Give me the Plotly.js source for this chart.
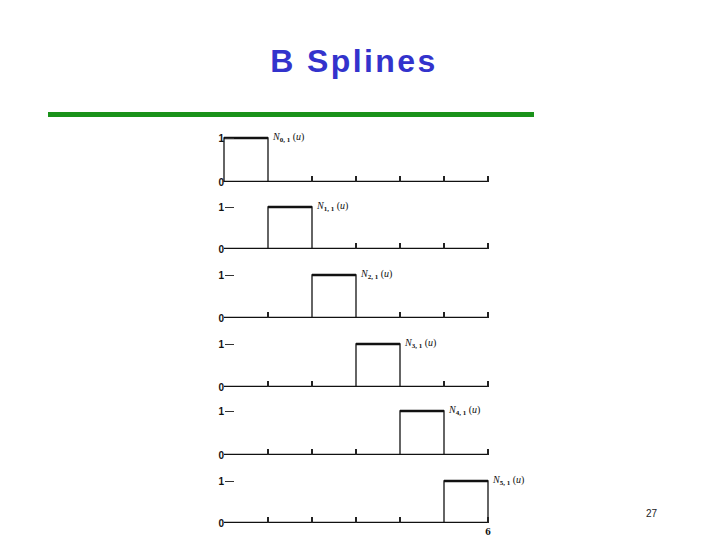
<!DOCTYPE html>
<html>
<head>
<meta charset="utf-8">
<script src="https://cdn.plot.ly/plotly-3.0.1.min.js"></script>
<style>html,body{margin:0;padding:0;background:#fff;}#chart{width:720px;height:540px;}
.gtitle{letter-spacing:2.4px;}</style>
</head>
<body>
<div id="chart"></div>
<script>
// Knot vector u_0..u_6 and the basis functions N_{i,1}(u), i = 0..5
const knots = [0, 1, 2, 3, 4, 5, 6];
const basisIndex = [0, 1, 2, 3, 4, 5];
const levels = [0, 1];              // value outside / inside the knot span
const yTickLabels = ['0', '1'];
const lastTickLabel = '6';
const titleText = 'B Splines';
const slideNumber = '27';

// Pixel layout of the slide (positions, not data)
const baselinePx = [182, 249, 318, 387, 455, 523];
const topPx = [138, 207, 275, 344, 411, 481];
const W = 720, H = 540;
const x0Px = 224, x6Px = 488;
const padX = 0.08, padY = 0.06;   // range padding so edge ticks are drawn

const first = knots[0];
const last = knots[knots.length - 1];
const pxPerUnitX = (x6Px - x0Px) / (last - first);
const xDomain = [(x0Px - padX * pxPerUnitX) / W, (x6Px + padX * pxPerUnitX) / W];

const data = [];
const layout = {
  width: W, height: H,
  margin: {l: 0, r: 0, t: 0, b: 0},
  paper_bgcolor: '#ffffff', plot_bgcolor: 'rgba(0,0,0,0)',
  showlegend: false,
  title: {
    text: '<b>' + titleText + '</b>',
    font: {family: 'Liberation Sans, Arial, sans-serif', size: 32, color: '#3333cc'},
    x: 354 / W, xanchor: 'center', xref: 'paper',
    y: 1 - 61 / H, yanchor: 'middle', yref: 'paper'
  },
  shapes: [{
    type: 'line', xref: 'paper', yref: 'paper',
    x0: 48 / W, x1: 534 / W, y0: 1 - 114.5 / H, y1: 1 - 114.5 / H,
    line: {color: '#1a921a', width: 5}
  }],
  annotations: [{
    xref: 'paper', yref: 'paper', x: 652 / W, y: 1 - 513 / H,
    text: slideNumber, showarrow: false, xanchor: 'center', yanchor: 'middle',
    font: {family: 'Liberation Sans, Arial, sans-serif', size: 10, color: '#222'}
  }]
};

basisIndex.forEach((i, k) => {
  const xa = 'x' + (k ? k + 1 : '');
  const ya = 'y' + (k ? k + 1 : '');
  const xKey = 'xaxis' + (k ? k + 1 : '');
  const yKey = 'yaxis' + (k ? k + 1 : '');
  const a = knots[i], b = knots[i + 1];

  // baseline (zero part of the function)
  data.push({
    x: [first, last], y: [levels[0], levels[0]], xaxis: xa, yaxis: ya,
    mode: 'lines', line: {color: '#111', width: 2.6}, cliponaxis: false, hoverinfo: 'skip'
  });
  // the step N_{i,1}(u)
  data.push({
    x: [a, a, b, b], y: [levels[0], levels[1], levels[1], levels[0]], xaxis: xa, yaxis: ya,
    mode: 'lines', line: {color: '#111', width: 1.3}, cliponaxis: false, hoverinfo: 'skip'
  });
  data.push({
    x: [a, b], y: [levels[1], levels[1]], xaxis: xa, yaxis: ya,
    mode: 'lines', line: {color: '#111', width: 2.4}, cliponaxis: false, hoverinfo: 'skip'
  });

  const isLast = k === basisIndex.length - 1;
  let tv = knots.filter(v => v !== first && v !== a && v !== b);
  if (isLast && tv.indexOf(last) < 0) tv.push(last);
  const tt = tv.map(v => (isLast && v === last) ? '<b>' + lastTickLabel + '</b>' : '');

  const yPxPerUnit = (baselinePx[k] - topPx[k]) / (levels[1] - levels[0]);
  const yb = baselinePx[k];
  const yt = topPx[k] - padY * yPxPerUnit;

  layout[xKey] = {
    domain: xDomain, range: [first - padX, last + padX], anchor: ya,
    showgrid: false, zeroline: false, showline: false,
    ticks: 'inside', ticklen: 6, tickwidth: 1.4, tickcolor: '#222',
    tickvals: tv, ticktext: tt,
    tickfont: {family: 'Liberation Serif, Times New Roman, serif', size: 11, color: '#111'},
    fixedrange: true
  };
  layout[yKey] = {
    domain: [1 - yb / H, 1 - yt / H], range: [levels[0], levels[1] + padY],
    anchor: 'free', position: x0Px / W,
    showgrid: false, zeroline: false, showline: false,
    ticks: 'inside', ticklen: 9, tickwidth: 1, tickcolor: '#333',
    tickvals: levels, ticktext: yTickLabels.map(s => '<b>' + s + '</b>'),
    tickfont: {family: 'Liberation Sans, Arial, sans-serif', size: 10, color: '#111'},
    fixedrange: true
  };

  layout.annotations.push({
    xref: xa, yref: ya, x: b, y: levels[1],
    text: '<i>N</i><sub><b>' + i + ', 1</b></sub> (<i>u</i>)',
    showarrow: false, xanchor: 'left', yanchor: 'middle', xshift: 2, yshift: 1,
    font: {family: 'Liberation Serif, Times New Roman, serif', size: 10, color: '#111'}
  });
});

Plotly.newPlot('chart', data, layout, {staticPlot: true, displayModeBar: false});
</script>
</body>
</html>
